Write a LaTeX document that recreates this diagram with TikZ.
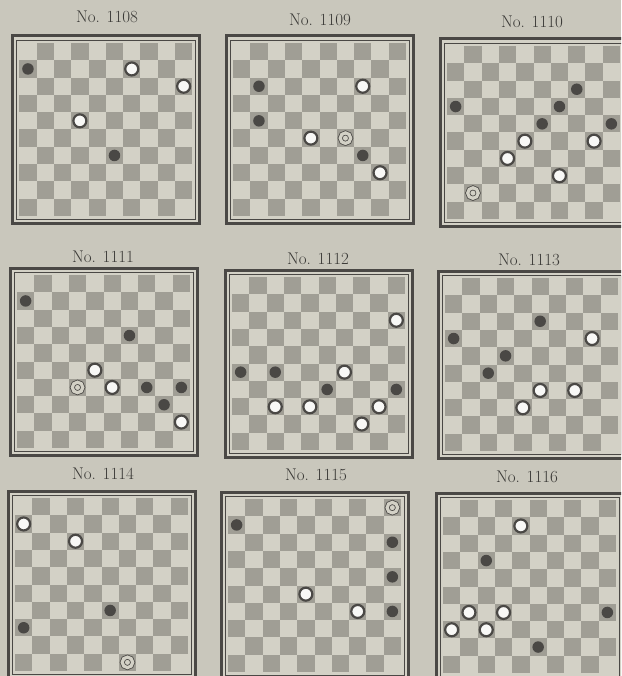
\documentclass[tikz,border=0pt]{standalone}
\usepackage{fontspec}
\usepackage{tikz}

\definecolor{paper}{HTML}{C9C7BC}
\definecolor{lightsq}{HTML}{D3D1C6}
\definecolor{darksq}{HTML}{A09E95}
\definecolor{ink}{HTML}{4A4845}

% one board: #1 number, #2 x, #3 y (top left corner of the squares), #4 pieces kind/col/row
\newcommand{\drawboard}[4]{%
  \begin{scope}[shift={(#2,#3)}]
    \fill[lightsq] (-8.5,-8.5) rectangle (181.5,181.5);
    \foreach \row in {1,...,10}
      \foreach \col in {1,...,10} {
        \pgfmathtruncatemacro{\odd}{mod(\row+\col,2)}
        \ifnum\odd=1 \fill[darksq] ({(\col-1)*17.3},{(\row-1)*17.3}) rectangle ++(17.3,17.3); \fi
      }
    \draw[ink, line width=0.8] (-3,-3) rectangle (176,176);
    \draw[ink, line width=3] (-7,-7) rectangle (180,180);
    \foreach \kind/\col/\row [count=\i] in {#4}
      \node[\kind] (p#1-\i) at ({(\col-0.5)*17.3},{(\row-0.5)*17.3}) {};
  \end{scope}}

\begin{document}
\begin{tikzpicture}[
    x=1pt, y=-1pt,
    numtext/.style={font=\fontsize{17}{19}\selectfont\addfontfeatures{LetterSpace=6, FakeBold=0.6}, text=ink!80!black, inner sep=0},
    blackman/.style={circle, fill=ink, minimum size=11.5, inner sep=0},
    whiteman/.style={circle, draw=ink, line width=2.2, fill=white!85!lightsq, minimum size=13, inner sep=0},
    whiteking/.style={circle, draw=ink, line width=0.8, double=lightsq, double distance=3.2, fill=lightsq, minimum size=10.5, inner sep=0}
]
\useasboundingbox (0,0) rectangle (621,676);
\clip (0,0) rectangle (621,676);
\fill[paper] (0,0) rectangle (621,676);

% --- Titles ---
\node (no1108) at (107,17) [numtext] {No. 1108};
\node (no1109) at (320,20) [numtext] {No. 1109};
\node (no1110) at (532,22) [numtext] {No. 1110};
\node (no1111) at (103,257) [numtext] {No. 1111};
\node (no1112) at (318,259) [numtext] {No. 1112};
\node (no1113) at (529,260) [numtext] {No. 1113};
\node (no1114) at (103,474) [numtext] {No. 1114};
\node (no1115) at (316,475) [numtext] {No. 1115};
\node (no1116) at (527,477) [numtext] {No. 1116};

% --- Top row ---
\drawboard{1108}{19.3}{43}{blackman/1/2, whiteman/7/2, whiteman/10/3, whiteman/4/5, blackman/6/7}
\drawboard{1109}{233}{43}{blackman/2/3, whiteman/8/3, blackman/2/5, whiteman/5/6, whiteking/7/6, blackman/8/7, whiteman/9/8}
\drawboard{1110}{447}{46}{blackman/8/3, blackman/1/4, blackman/7/4, blackman/6/5, blackman/10/5, whiteman/5/6, whiteman/9/6, whiteman/4/7, whiteman/7/8, whiteking/2/9}

% --- Middle row ---
\drawboard{1111}{17}{275}{blackman/1/2, blackman/7/4, whiteman/5/6, whiteking/4/7, whiteman/6/7, blackman/8/7, blackman/10/7, blackman/9/8, whiteman/10/9}
\drawboard{1112}{232}{277}{whiteman/10/3, blackman/1/6, blackman/3/6, whiteman/7/6, blackman/6/7, blackman/10/7, whiteman/3/8, whiteman/5/8, whiteman/9/8, whiteman/8/9}
\drawboard{1113}{445}{278}{blackman/6/3, blackman/1/4, whiteman/9/4, blackman/4/5, blackman/3/6, whiteman/6/7, whiteman/8/7, whiteman/5/8}

% --- Bottom row ---
\drawboard{1114}{15}{498}{whiteman/1/2, whiteman/4/3, blackman/6/7, blackman/1/8, whiteking/7/10}
\drawboard{1115}{228}{499}{whiteking/10/1, blackman/1/2, blackman/10/3, blackman/10/5, whiteman/5/6, whiteman/8/7, blackman/10/7}
\drawboard{1116}{443}{500}{whiteman/5/2, blackman/3/4, whiteman/2/7, whiteman/4/7, blackman/10/7, whiteman/1/8, whiteman/3/8, blackman/6/9}

\end{tikzpicture}
\end{document}
